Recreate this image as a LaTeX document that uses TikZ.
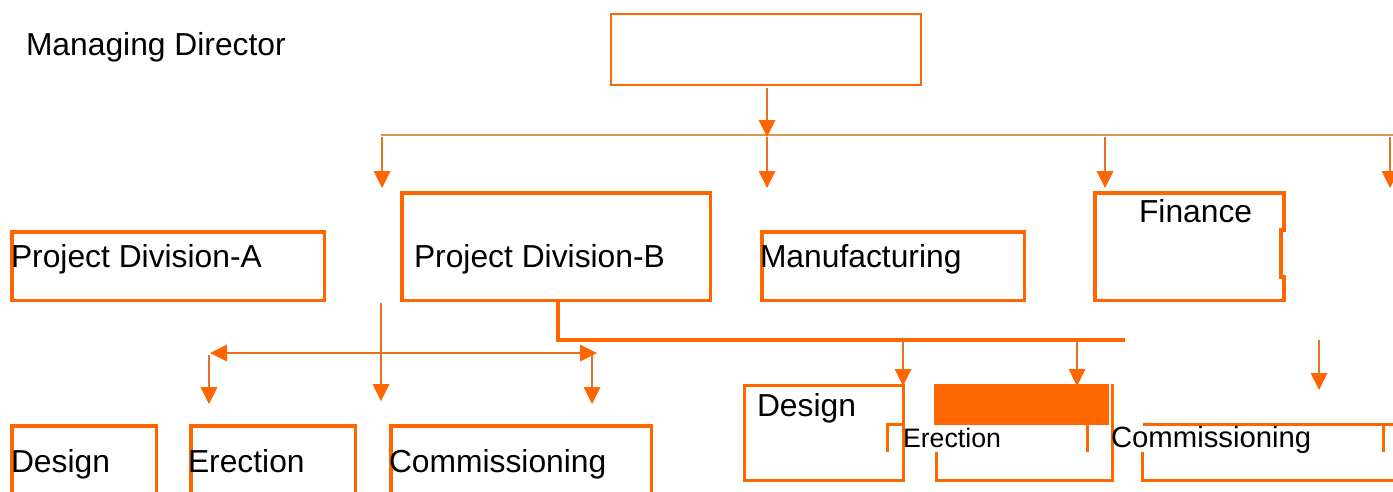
\documentclass[tikz,border=0pt]{standalone}
\usepackage{fontspec}
\setmainfont{Liberation Sans}
\usetikzlibrary{arrows.meta}
\definecolor{boxor}{RGB}{255,102,0}
\definecolor{arrline}{RGB}{230,115,35}
\definecolor{tanline}{RGB}{212,152,92}
\tikzset{
  frame/.style={draw=boxor, line width=3.5pt, inner sep=0pt, outer sep=0pt, anchor=north west},
  lbl/.style={anchor=base west, inner sep=0pt, outer sep=0pt, text=black, font=\fontsize{31.8}{38}\selectfont},
  headtip/.tip={Triangle[width=17pt,length=17pt,color=boxor,line width=0pt]},
  conn/.style={draw=arrline, line width=2pt, -headtip},
  dconn/.style={draw=arrline, line width=2pt, headtip-headtip},
  bar/.style={draw=boxor, line width=3.5pt},
  thinbus/.style={draw=tanline, line width=1.5pt},
}
\begin{document}
\begin{tikzpicture}[x=1pt,y=-1pt]
\useasboundingbox (0,0) rectangle (1393,491);
\clip (0,0) rectangle (1393,491);

% ---- top level ----
\node[frame, line width=2pt, minimum width=310pt, minimum height=71pt] (md) at (611,14) {};
\node[lbl] (mdt) at (26,55) {Managing Director};

% ---- second row ----
\node[frame, minimum width=312.5pt, minimum height=68.5pt] (pda) at (11.75,231.75) {};
\node[lbl] (pdat) at (11,267) {Project Division-A};
\node[frame, minimum width=308.5pt, minimum height=107.5pt] (pdb) at (401.75,192.75) {};
\node[lbl] (pdbt) at (414,267) {Project Division-B};
\node[frame, minimum width=262.5pt, minimum height=68.5pt] (mfg) at (761.75,231.75) {};
\node[lbl] (mfgt) at (760,267) {Manufacturing};
\draw[bar] (1284,230) -- (1284,192.75) -- (1094.75,192.75) -- (1094.75,300.25) -- (1284,300.25) -- (1284,277) -- (1281,277) -- (1281,230) -- cycle;
\node[lbl] (fint) at (1139,222) {Finance};

% ---- third row, left ----
\node[frame, minimum width=144.5pt, minimum height=100pt] (d1) at (11.75,425.75) {};
\node[lbl] (d1t) at (11,472) {Design};
\node[frame, minimum width=164.5pt, minimum height=100pt] (e1) at (190.75,425.75) {};
\node[lbl] (e1t) at (188,472) {Erection};
\node[frame, minimum width=260.5pt, minimum height=100pt] (c1) at (390.75,425.75) {};
\node[lbl] (c1t) at (389,472) {Commissioning};

% ---- third row, right ----
\node[frame, line width=3pt, minimum width=159pt, minimum height=94.5pt] (d2) at (744.5,385.5) {};
\node[lbl] (d2t) at (757,416) {Design};
\node[fill=boxor, anchor=north west, inner sep=0pt, minimum width=175pt, minimum height=41pt] (efill) at (934,384) {};
\draw[bar, line width=3pt] (887,452) -- (887,424) -- (903,424);
\draw[bar, line width=3pt] (1087,424) -- (1087,452);
\draw[bar, line width=3pt] (936,452) -- (936,480) -- (1112,480) -- (1112,384);
\node[lbl, font=\fontsize{26.7}{32}\selectfont] (e2t) at (903,447) {Erection};
\draw[bar, line width=3pt] (1143,424) -- (1400,424);
\draw[bar, line width=3pt] (1383,424) -- (1383,452);
\draw[bar, line width=3pt] (1142,452) -- (1142,480) -- (1400,480);
\node[lbl, font=\fontsize{29.3}{35}\selectfont] (c2t) at (1111,447) {Commissioning};

% ---- connectors from the top ----
\coordinate (busL) at (381,135);
\coordinate (busM) at (767,135);
\coordinate (busR) at (1393,135);
\draw[thinbus] (busL) -- (busR);
\draw[conn] (md.south -| busM) ++(0,3) -- (767,137);
\coordinate (t1) at (382,188);
\coordinate (t2) at (767,188);
\coordinate (t3) at (1105,188);
\coordinate (t4) at (1390,188);
\draw[conn] (382,137) -- (t1);
\draw[conn] (767,137) -- (t2);
\draw[conn] (1105,137) -- (t3);
\draw[conn] (1390,137) -- (t4);

% ---- connectors under Project Division-A/B ----
\coordinate (vA) at (381,303);
\coordinate (vAt) at (381,401);
\draw[conn] (vA) -- (vAt);
\coordinate (hL) at (210,353);
\coordinate (hR) at (597,353);
\draw[dconn] (hL) -- (hR);
\coordinate (dL) at (209,404);
\coordinate (dR) at (592,404);
\draw[conn] (209,355) -- (dL);
\draw[conn] (592,355) -- (dR);

\coordinate (pdbB) at (558,302);
\coordinate (b2) at (558,340);
\coordinate (b2R) at (1125,340);
\draw[bar] (pdbB) -- (b2) -- (b2R);
\coordinate (r1) at (903,386);
\coordinate (r2) at (1077,386);
\coordinate (r3) at (1319,390);
\draw[conn] (903,342) -- (r1);
\draw[conn] (1077,342) -- (r2);
\draw[conn] (1319,340) -- (r3);
\end{tikzpicture}
\end{document}
